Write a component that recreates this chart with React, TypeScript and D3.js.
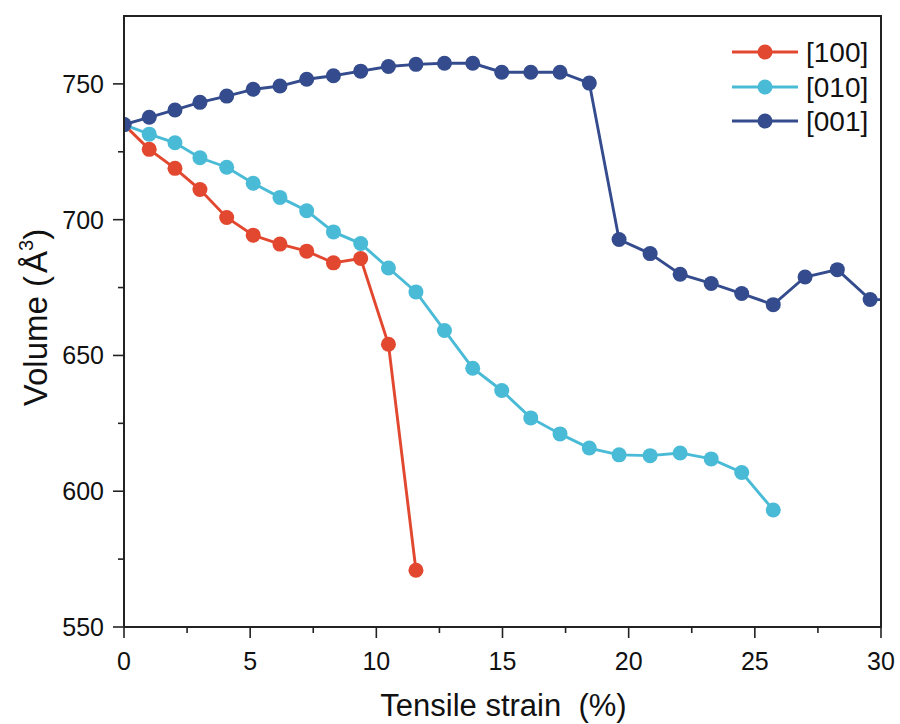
import React, { useEffect, useRef } from "react";
import * as d3 from "d3";

const strainA = [0, 1.0, 2.02, 3.01, 4.07, 5.12, 6.18, 7.24, 8.3, 9.38, 10.48, 11.57];
const vol100 = [735, 725.9, 718.9, 711.1, 700.8, 694.3, 691.0, 688.4, 684.1, 685.7, 654.1, 570.9];

const strainB = [0, 1.0, 2.02, 3.01, 4.07, 5.12, 6.18, 7.24, 8.3, 9.38, 10.48, 11.57, 12.7, 13.82, 14.97, 16.12, 17.28, 18.44, 19.62, 20.85, 22.04, 23.27, 24.48, 25.73];
const vol010 = [735, 731.5, 728.3, 722.8, 719.3, 713.4, 708.2, 703.3, 695.5, 691.2, 682.2, 673.4, 659.2, 645.3, 637.1, 627.0, 621.1, 615.9, 613.4, 613.1, 614.1, 611.9, 606.9, 593.1];

const strainC = [0, 1.0, 2.02, 3.01, 4.07, 5.12, 6.18, 7.24, 8.3, 9.38, 10.48, 11.57, 12.7, 13.82, 14.97, 16.12, 17.28, 18.44, 19.62, 20.85, 22.04, 23.27, 24.48, 25.73, 26.99, 28.27, 29.57, 30.8];
const vol001 = [735, 737.7, 740.4, 743.2, 745.5, 748.0, 749.2, 751.7, 753.0, 754.7, 756.4, 757.2, 757.6, 757.6, 754.3, 754.3, 754.3, 750.3, 692.7, 687.5, 679.9, 676.5, 672.8, 668.7, 678.9, 681.6, 670.6, 670.5];

const seriesNames = ["[100]", "[010]", "[001]"];
const seriesColors = ["#E2482F", "#4ABBD6", "#344C8D"];

const xTicks = [0, 5, 10, 15, 20, 25, 30];
const yTicks = [550, 600, 650, 700, 750];

export default function App() {
  const ref = useRef<SVGSVGElement>(null);

  useEffect(() => {
    const svg = d3.select(ref.current);
    svg.selectAll("*").remove();
    const W = 900, H = 724;
    const m = { left: 124, right: 881, top: 16, bottom: 627 };
    const x = d3.scaleLinear().domain([0, 30]).range([m.left, m.right]);
    const y = d3.scaleLinear().domain([550, 775]).range([m.bottom, m.top]);
    const font = "Liberation Sans, Arial, sans-serif";

    svg.append("rect").attr("width", W).attr("height", H).attr("fill", "#fff");

    svg.append("defs").append("clipPath").attr("id", "plotclip")
      .append("rect").attr("x", m.left).attr("y", m.top)
      .attr("width", m.right - m.left).attr("height", m.bottom - m.top);

    const data = [
      { xs: strainA, ys: vol100 },
      { xs: strainB, ys: vol010 },
      { xs: strainC, ys: vol001 },
    ];

    const g = svg.append("g").attr("clip-path", "url(#plotclip)");
    const line = d3.line<[number, number]>().x(d => x(d[0])).y(d => y(d[1]));
    data.forEach((s, i) => {
      const pts: [number, number][] = s.xs.map((v, k) => [v, s.ys[k]]);
      g.append("path").attr("d", line(pts)).attr("fill", "none")
        .attr("stroke", seriesColors[i]).attr("stroke-width", 2.9);
      g.selectAll(null).data(pts).enter().append("circle")
        .attr("cx", d => x(d[0])).attr("cy", d => y(d[1])).attr("r", 7.5)
        .attr("fill", seriesColors[i]);
    });

    const axisColor = "#222";
    svg.append("path")
      .attr("d", `M${m.left},${m.bottom}V${m.top}H${m.right}V${m.bottom}H${m.left}`)
      .attr("fill", "none").attr("stroke", axisColor).attr("stroke-width", 2);

    const xMinor = d3.range(2.5, 30, 5);
    xTicks.forEach(t => {
      svg.append("line").attr("x1", x(t)).attr("x2", x(t)).attr("y1", m.bottom).attr("y2", m.bottom + 11)
        .attr("stroke", axisColor).attr("stroke-width", 1.6);
      svg.append("text").attr("x", x(t)).attr("y", m.bottom + 43).attr("text-anchor", "middle")
        .attr("font-family", font).attr("font-size", 25).attr("fill", "#111").text(String(t));
    });
    xMinor.forEach(t => {
      svg.append("line").attr("x1", x(t)).attr("x2", x(t)).attr("y1", m.bottom).attr("y2", m.bottom + 6)
        .attr("stroke", axisColor).attr("stroke-width", 1.6);
    });
    const yMinor = d3.range(575, 775, 50);
    yTicks.forEach(t => {
      svg.append("line").attr("x1", m.left - 11).attr("x2", m.left).attr("y1", y(t)).attr("y2", y(t))
        .attr("stroke", axisColor).attr("stroke-width", 1.6);
      svg.append("text").attr("x", m.left - 20).attr("y", y(t) + 9).attr("text-anchor", "end")
        .attr("font-family", font).attr("font-size", 25).attr("fill", "#111").text(String(t));
    });
    yMinor.forEach(t => {
      svg.append("line").attr("x1", m.left - 6).attr("x2", m.left).attr("y1", y(t)).attr("y2", y(t))
        .attr("stroke", axisColor).attr("stroke-width", 1.6);
    });

    svg.append("text").attr("x", (m.left + m.right) / 2 + 1).attr("y", 716).attr("text-anchor", "middle")
      .attr("font-family", font).attr("font-size", 31).attr("fill", "#111")
      .attr("xml:space", "preserve").style("white-space", "pre").text("Tensile strain  (%)");

    const yl = svg.append("text").attr("transform", `translate(47,${(m.top + m.bottom) / 2 - 4}) rotate(-90)`)
      .attr("text-anchor", "middle").attr("font-family", font).attr("font-size", 33).attr("fill", "#111");
    yl.append("tspan").text("Volume (");
    yl.append("tspan").attr("dx", 3).text("Å");
    yl.append("tspan").attr("dy", -14).attr("font-size", 20).text("3");
    yl.append("tspan").attr("dy", 14).text(")");

    const legY = [52, 87, 121];
    seriesNames.forEach((n, i) => {
      svg.append("line").attr("x1", 732).attr("x2", 798).attr("y1", legY[i]).attr("y2", legY[i])
        .attr("stroke", seriesColors[i]).attr("stroke-width", 2.9);
      svg.append("circle").attr("cx", 765).attr("cy", legY[i]).attr("r", 7.5).attr("fill", seriesColors[i]);
      svg.append("text").attr("x", 806).attr("y", legY[i] + 10).attr("font-family", font)
        .attr("font-size", 28).attr("fill", "#111").text(n);
    });
  }, []);

  return (
    <svg ref={ref} width={900} height={724}
      style={{ position: "absolute", left: 0, top: 0, display: "block" }} />
  );
}
